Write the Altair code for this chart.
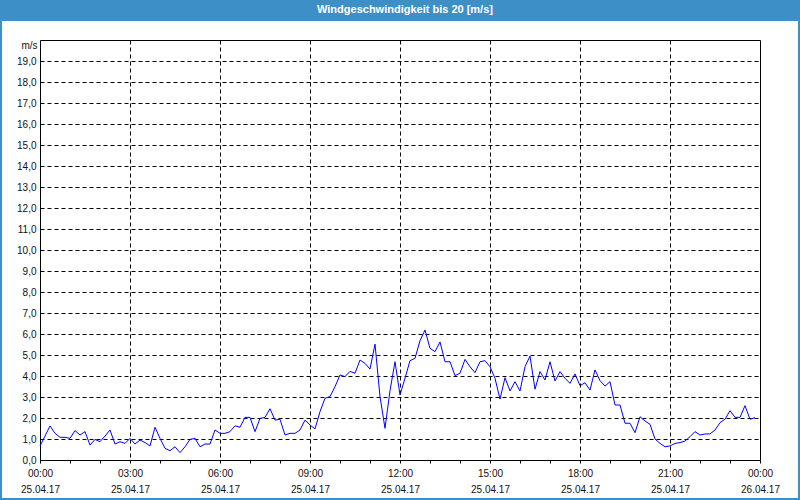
import altair as alt
import pandas as pd

# wind speed every 10 minutes, 25.04.17 00:00 .. 23:50  [m/s]
speed = [
    0.67, 1.14, 1.62, 1.27, 1.08, 1.08, 1.03, 1.40, 1.19, 1.35,
    0.71, 0.98, 0.87, 1.14, 1.43, 0.76, 0.87, 0.79, 1.03, 0.76,
    0.95, 0.83, 0.67, 1.56, 1.03, 0.56, 0.44, 0.63, 0.35, 0.63,
    0.98, 1.03, 0.63, 0.76, 0.76, 1.43, 1.27, 1.27, 1.35, 1.63,
    1.56, 2.03, 2.03, 1.35, 1.98, 2.03, 2.44, 1.90, 1.94, 1.19,
    1.27, 1.27, 1.43, 1.90, 1.67, 1.48, 2.30, 2.94, 3.02, 3.49,
    4.05, 3.97, 4.22, 4.13, 4.76, 4.60, 4.33, 5.52, 3.02, 1.51,
    3.30, 4.68, 3.10, 3.89, 4.73, 4.84, 5.68, 6.19, 5.32, 5.16,
    5.62, 4.68, 4.68, 4.02, 4.13, 4.79, 4.44, 4.16, 4.68, 4.73,
    4.44, 3.89, 2.90, 3.92, 3.29, 3.73, 3.29, 4.44, 4.95, 3.37,
    4.21, 3.81, 4.68, 3.76, 4.21, 3.89, 3.65, 4.10, 3.54, 3.68,
    3.33, 4.29, 3.78, 3.52, 3.73, 2.62, 2.62, 1.75, 1.75, 1.30,
    2.06, 1.86, 1.70, 1.00, 0.79, 0.63, 0.67, 0.79, 0.83, 0.90,
    1.11, 1.35, 1.19, 1.24, 1.24, 1.43, 1.78, 1.94, 2.35, 2.03,
    2.03, 2.59, 1.94, 2.02,
]
step_minutes = 10
hours = [i * step_minutes / 60 for i in range(len(speed))]

time_labels = ["00:00", "03:00", "06:00", "09:00", "12:00", "15:00", "18:00", "21:00", "00:00"]
date_labels = ["25.04.17"] * 8 + ["26.04.17"]
minor_hours = list(range(0, 25))
y_values = list(range(0, 20))
title_text = "Windgeschwindigkeit bis 20 [m/s]"

FONT = "Liberation Sans"
W, H = 720, 420

df = pd.DataFrame({"h": hours, "v": speed})

tl = "[" + ",".join(f"'{t}'" for t in time_labels) + "]"
dl = "[" + ",".join(f"'{d}'" for d in date_labels) + "]"
x_label_expr = f"datum.value % 3 == 0 ? [{tl}[datum.value/3], {dl}[datum.value/3]] : ''"

xscale = alt.Scale(domain=[0, 24], nice=False, zero=False)
yscale = alt.Scale(domain=[0, 20], nice=False)

line = alt.Chart(df).mark_line(color="#0000ff", strokeWidth=1).encode(
    x=alt.X(
        "h:Q",
        scale=xscale,
        axis=alt.Axis(
            values=minor_hours,
            labelExpr=x_label_expr,
            labelOverlap=False,
            labelFlush=False,
            labelBound=False,
            grid=True,
            gridColor="black",
            gridDash=[4, 3],
            gridWidth=1,
            gridOpacity=alt.ExprRef("datum.value % 3 == 0 && datum.value > 0 && datum.value < 24 ? 1 : 0"),
            domain=False,
            tickColor="black",
            tickSize=3,
            labelPadding=5,
            labelFont=FONT,
            labelFontSize=10,
            labelColor="#111",
            labelLineHeight=16,
            title=None,
        ),
    ),
    y=alt.Y(
        "v:Q",
        scale=yscale,
        axis=alt.Axis(
            values=y_values,
            labelExpr="replace(format(datum.value, '.1f'), '.', ',')",
            labelOverlap=False,
            labelFlush=False,
            grid=True,
            gridColor="black",
            gridDash=[4, 3],
            gridWidth=1,
            gridOpacity=alt.ExprRef("datum.value > 0 ? 1 : 0"),
            domain=False,
            ticks=False,
            labelPadding=4,
            labelFont=FONT,
            labelFontSize=10,
            labelColor="#111",
            title="m/s",
            titleAngle=0,
            titleAlign="right",
            titleBaseline="middle",
            titleX=-3,
            titleY=5,
            titleFont=FONT,
            titleFontSize=10,
            titleFontWeight="normal",
            titleColor="#111",
        ),
    ),
)

# title bar and frame
bar = alt.Chart(pd.DataFrame({"t": [title_text]})).mark_rect(
    color="#3d90c7"
).encode(x=alt.value(-40), x2=alt.value(W + 40), y=alt.value(-40), y2=alt.value(-19))

title = alt.Chart(pd.DataFrame({"t": [title_text]})).mark_text(
    color="white", font=FONT, fontSize=11, fontWeight="bold", align="center", baseline="middle"
).encode(x=alt.value(W / 2 + 5), y=alt.value(-30), text="t:N")

border = alt.Chart(pd.DataFrame({"t": [title_text]})).mark_rect(
    fill=None, stroke="#3d90c7", strokeWidth=2
).encode(x=alt.value(-39), x2=alt.value(W + 39), y=alt.value(-39), y2=alt.value(H + 39))

chart = alt.layer(line, bar, title, border).properties(
    width=W,
    height=H,
    autosize=alt.AutoSizeParams(type="none"),
    padding={"left": 40, "top": 40, "right": 40, "bottom": 40},
    background="white",
).configure_view(stroke="black", strokeWidth=1)

chart.save("out.html", embed_options={"renderer": "svg", "actions": False})
